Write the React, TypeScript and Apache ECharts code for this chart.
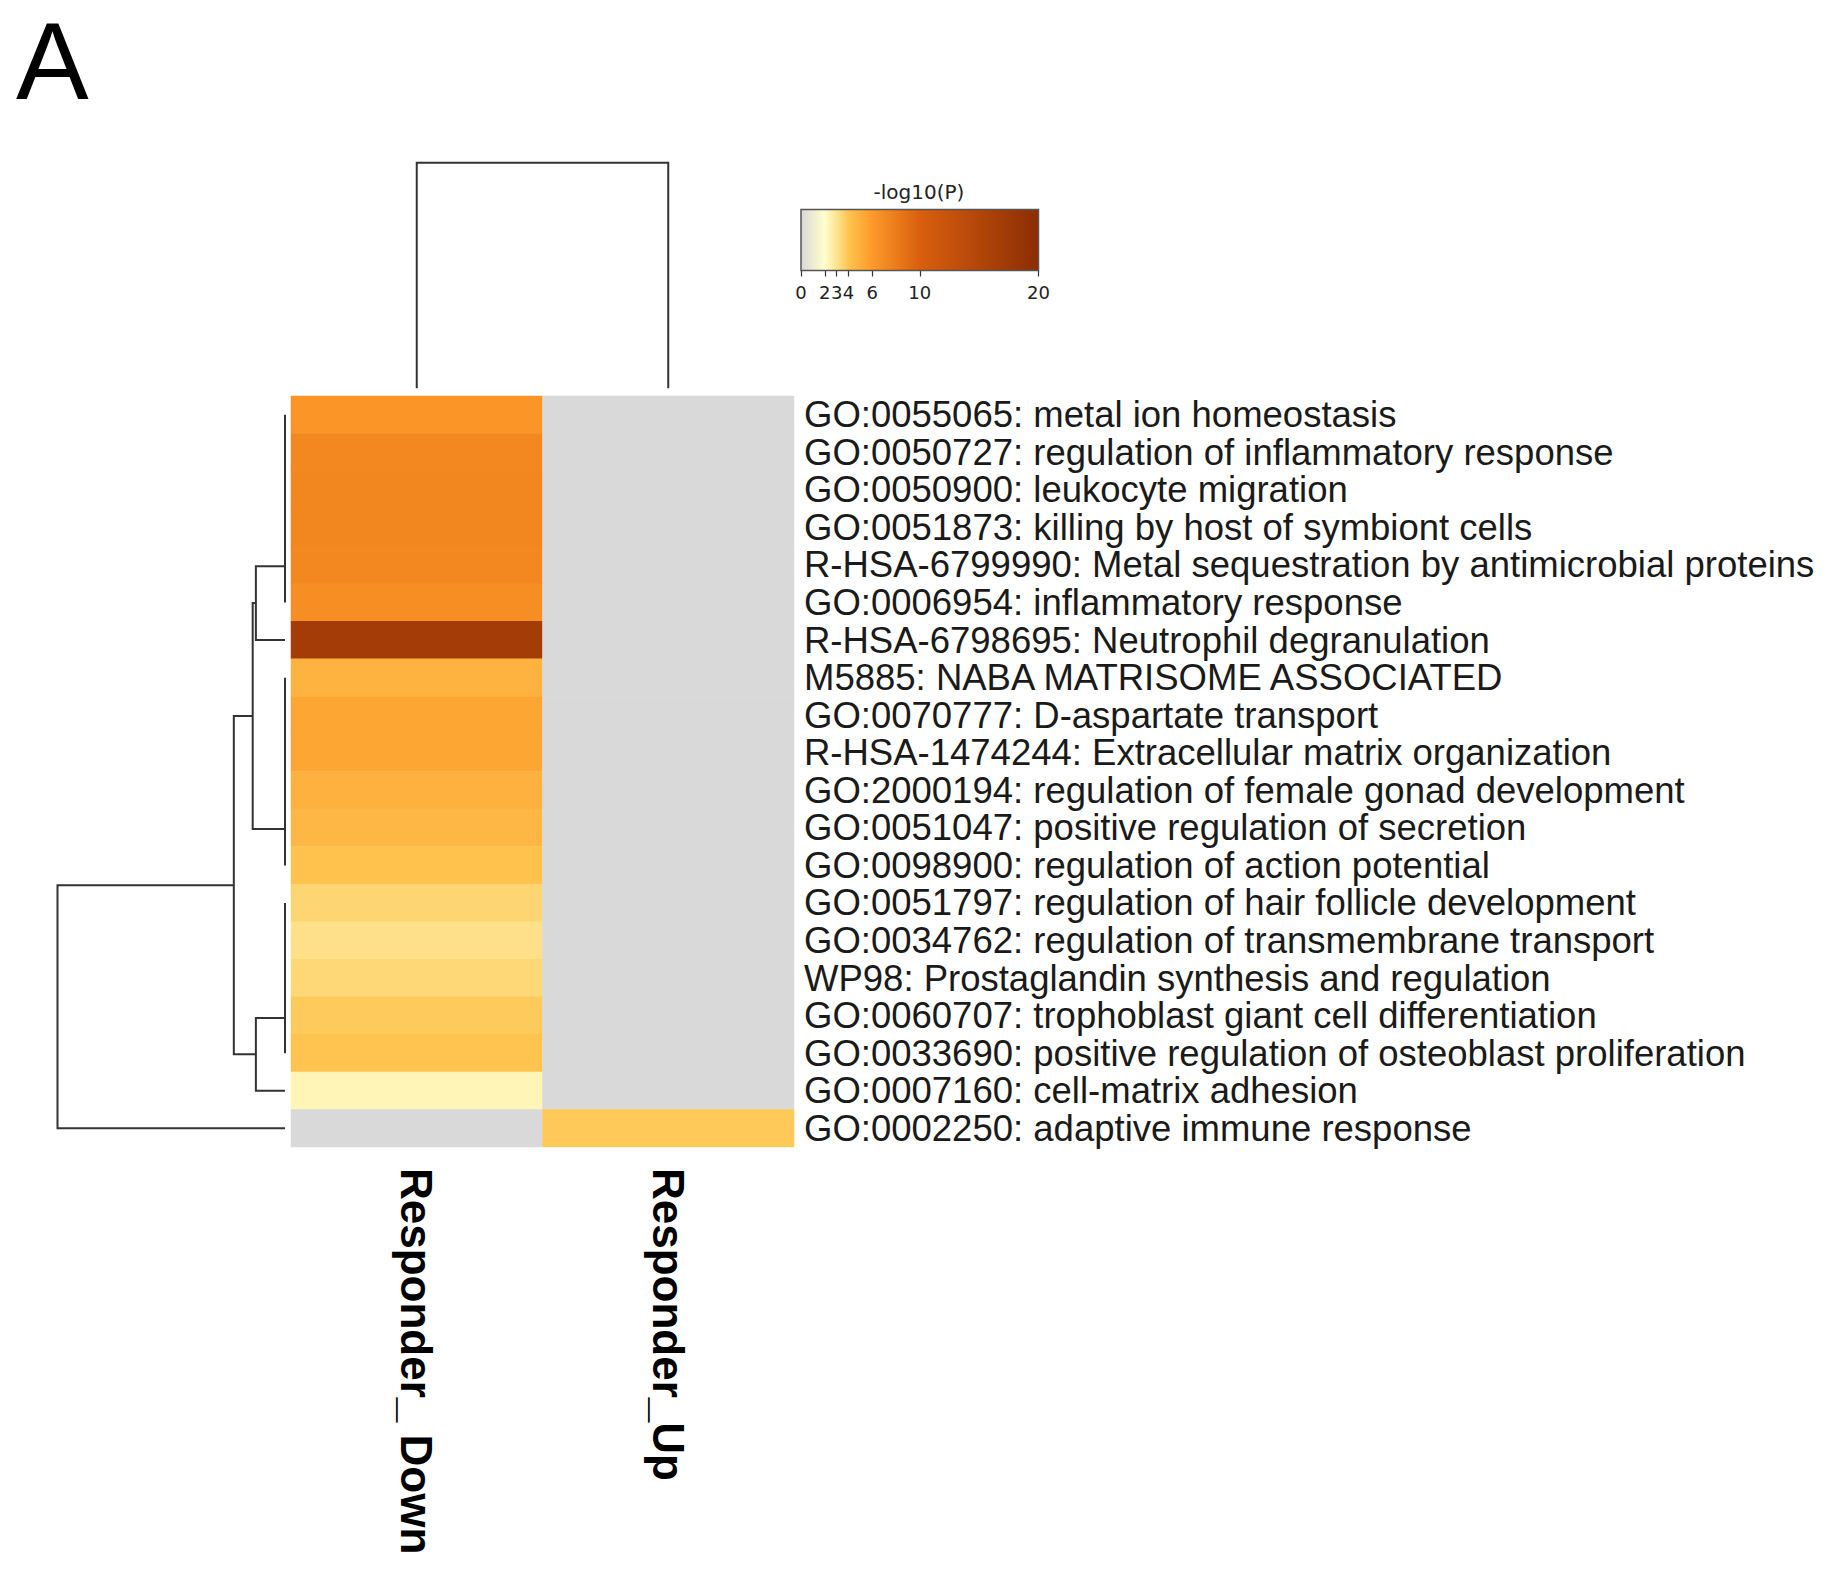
import React, { useEffect, useRef } from 'react';
import * as echarts from 'echarts';

// ---------------- data ----------------
const columns = ['Responder_ Down', 'Responder_Up'];

const terms = [
  'GO:0055065: metal ion homeostasis',
  'GO:0050727: regulation of inflammatory response',
  'GO:0050900: leukocyte migration',
  'GO:0051873: killing by host of symbiont cells',
  'R-HSA-6799990: Metal sequestration by antimicrobial proteins',
  'GO:0006954: inflammatory response',
  'R-HSA-6798695: Neutrophil degranulation',
  'M5885: NABA MATRISOME ASSOCIATED',
  'GO:0070777: D-aspartate transport',
  'R-HSA-1474244: Extracellular matrix organization',
  'GO:2000194: regulation of female gonad development',
  'GO:0051047: positive regulation of secretion',
  'GO:0098900: regulation of action potential',
  'GO:0051797: regulation of hair follicle development',
  'GO:0034762: regulation of transmembrane transport',
  'WP98: Prostaglandin synthesis and regulation',
  'GO:0060707: trophoblast giant cell differentiation',
  'GO:0033690: positive regulation of osteoblast proliferation',
  'GO:0007160: cell-matrix adhesion',
  'GO:0002250: adaptive immune response',
];

// -log10(P) per term
const downValues = [6.3, 7.2, 7.3, 7.3, 7.2, 6.8, 17.0, 4.8, 5.4, 5.4, 4.9, 4.6, 4.1, 3.45, 3.1, 3.4, 3.8, 4.0, 2.35, 0];
const upValues = [0, 0, 0, 0, 0, 0, 0, 0, 0, 0, 0, 0, 0, 0, 0, 0, 0, 0, 0, 3.85];

// colour scale of -log10(P)
const colorStopValues = [0, 2, 3, 4, 6, 10, 20];
const colorStopColors = ['#d9d9d9', '#ffffcc', '#fee391', '#fec44f', '#fe9929', '#d95f0e', '#8c2d04'];
const colorbarTicks = [0, 2, 3, 4, 6, 10, 20];
const colorbarTitle = '-log10(P)';
const panelLetter = 'A';

// dendrogram links: [positionA, positionB, heightA, heightB, mergeHeight]
const rowLinks = [
  [0, 1, 0, 0, 0],
  [0.5, 2, 0, 0, 0],
  [1.25, 3, 0, 0, 0],
  [2.125, 4, 0, 0, 0],
  [3.0625, 5, 0, 0, 0],
  [4.03125, 6, 0, 0, 0.128],
  [7, 8, 0, 0, 0],
  [7.5, 9, 0, 0, 0],
  [8.25, 10, 0, 0, 0],
  [9.125, 11, 0, 0, 0],
  [10.0625, 12, 0, 0, 0],
  [5.015625, 11.03125, 0.128, 0, 0.142],
  [13, 14, 0, 0, 0],
  [13.5, 15, 0, 0, 0],
  [14.25, 16, 0, 0, 0],
  [15.125, 17, 0, 0, 0],
  [16.0625, 18, 0, 0, 0.128],
  [8.0234375, 17.03125, 0.142, 0.128, 0.225],
  [12.52734375, 19, 0.225, 0, 1],
];
const colLinks = [[0, 1, 0, 0, 1]];

// ---------------- helpers ----------------
function hexToRgb(h: string) {
  const n = parseInt(h.slice(1), 16);
  return [(n >> 16) & 255, (n >> 8) & 255, n & 255];
}
function colorAt(v: number) {
  for (let i = 0; i < colorStopValues.length - 1; i++) {
    const a = colorStopValues[i];
    const b = colorStopValues[i + 1];
    if (v >= a && v <= b) {
      const t = (v - a) / (b - a);
      const ca = hexToRgb(colorStopColors[i]);
      const cb = hexToRgb(colorStopColors[i + 1]);
      const c = ca.map((x, k) => Math.round(x + (cb[k] - x) * t));
      return `rgb(${c[0]},${c[1]},${c[2]})`;
    }
  }
  return colorStopColors[colorStopColors.length - 1];
}

const LINE = '#333333';

function linkRenderer(horizontal: boolean) {
  return (params: any, api: any) => {
    const pA = api.value(0);
    const pB = api.value(1);
    const hA = api.value(2);
    const hB = api.value(3);
    const hM = api.value(4);
    const pt = (p: number, h: number) => (horizontal ? api.coord([h, p]) : api.coord([p, h]));
    return {
      type: 'polyline',
      shape: { points: [pt(pA, hA), pt(pA, hM), pt(pB, hM), pt(pB, hB)] },
      style: { stroke: LINE, lineWidth: 2, fill: 'none' },
      silent: true,
    };
  };
}

export default function App() {
  const ref = useRef<HTMLDivElement>(null);

  useEffect(() => {
    if (!ref.current) return;
    const chart = echarts.init(ref.current, undefined, { renderer: 'svg' });

    const cbMin = colorbarTicks[0];
    const cbMax = colorbarTicks[colorbarTicks.length - 1];
    const integerColors: string[] = [];
    for (let v = cbMin; v <= cbMax; v++) integerColors.push(colorAt(v));

    const heatData: number[][] = [];
    terms.forEach((_, r) => {
      heatData.push([0, r, downValues[r]]);
      heatData.push([1, r, upValues[r]]);
    });

    const gradientStops = colorStopValues.map((v, i) => ({
      offset: (v - cbMin) / (cbMax - cbMin),
      color: colorStopColors[i],
    }));

    const option: any = {
      animation: false,
      backgroundColor: '#ffffff',
      grid: [
        { left: 291, top: 396, width: 503, height: 751 },
        { left: 801, top: 209.5, width: 237.5, height: 61 },
        { left: 57.5, top: 396, width: 227.5, height: 751 },
        { left: 291, top: 162.7, width: 503, height: 225.6 },
      ],
      xAxis: [
        {
          gridIndex: 0,
          type: 'category',
          data: columns,
          position: 'bottom',
          axisLine: { show: false },
          axisTick: { show: false },
          splitLine: { show: false },
          axisLabel: {
            interval: 0,
            rotate: -90,
            margin: 21,
            fontSize: 44,
            fontWeight: 'bold',
            fontFamily: 'Liberation Sans, Arial, sans-serif',
            color: '#000',
          },
        },
        {
          gridIndex: 1,
          type: 'value',
          min: cbMin,
          max: cbMax,
          position: 'bottom',
          axisLine: { show: false },
          splitLine: { show: false },
          axisTick: {
            show: true,
            customValues: colorbarTicks,
            length: 6,
            lineStyle: { color: '#333', width: 1.2 },
          },
          axisLabel: {
            customValues: colorbarTicks,
            margin: 13,
            fontSize: 18,
            fontFamily: 'DejaVu Sans, sans-serif',
            color: '#222',
          },
        },
        { gridIndex: 2, type: 'value', min: 0, max: 1, inverse: true, show: false },
        { gridIndex: 3, type: 'category', data: columns, show: false },
      ],
      yAxis: [
        {
          gridIndex: 0,
          type: 'category',
          data: terms,
          inverse: true,
          position: 'right',
          axisLine: { show: false },
          axisTick: { show: false },
          splitLine: { show: false },
          axisLabel: {
            interval: 0,
            margin: 10,
            fontSize: 36.5,
            fontFamily: 'Liberation Sans, Arial, sans-serif',
            color: '#1a1a1a',
          },
        },
        { gridIndex: 1, type: 'value', min: 0, max: 1, show: false },
        { gridIndex: 2, type: 'value', min: -0.5, max: terms.length - 0.5, inverse: true, show: false },
        { gridIndex: 3, type: 'value', min: 0, max: 1, show: false },
      ],
      visualMap: {
        show: false,
        type: 'continuous',
        seriesIndex: 0,
        dimension: 2,
        min: cbMin,
        max: cbMax,
        inRange: { color: integerColors },
      },
      series: [
        {
          type: 'heatmap',
          xAxisIndex: 0,
          yAxisIndex: 0,
          data: heatData,
          itemStyle: { borderWidth: 0 },
          emphasis: { disabled: true },
          silent: true,
        },
        {
          type: 'custom',
          xAxisIndex: 1,
          yAxisIndex: 1,
          data: [[cbMin, cbMax]],
          silent: true,
          renderItem: (params: any, api: any) => {
            const p0 = api.coord([api.value(0), 1]);
            const p1 = api.coord([api.value(1), 0]);
            return {
              type: 'rect',
              shape: { x: p0[0], y: p0[1], width: p1[0] - p0[0], height: p1[1] - p0[1] },
              style: {
                fill: new echarts.graphic.LinearGradient(0, 0, 1, 0, gradientStops),
                stroke: '#555',
                lineWidth: 1.5,
              },
            };
          },
        },
        {
          type: 'custom',
          xAxisIndex: 2,
          yAxisIndex: 2,
          data: rowLinks,
          silent: true,
          renderItem: linkRenderer(true),
        },
        {
          type: 'custom',
          xAxisIndex: 3,
          yAxisIndex: 3,
          data: colLinks,
          silent: true,
          renderItem: linkRenderer(false),
        },
      ],
      graphic: [
        {
          type: 'text',
          x: 16,
          y: 61,
          style: {
            text: panelLetter,
            fontSize: 109,
            fontFamily: 'Liberation Sans, Arial, sans-serif',
            fill: '#000',
            align: 'left',
            verticalAlign: 'middle',
          },
        },
        {
          type: 'text',
          x: 919,
          y: 192,
          style: {
            text: colorbarTitle,
            fontSize: 20,
            fontFamily: 'DejaVu Sans, sans-serif',
            fill: '#222',
            align: 'center',
            verticalAlign: 'middle',
          },
        },
      ],
    };

    chart.setOption(option);
    return () => chart.dispose();
  }, []);

  return (
    <div
      ref={ref}
      style={{ position: 'absolute', left: 0, top: 0, width: 1841, height: 1594, background: '#fff' }}
    />
  );
}
